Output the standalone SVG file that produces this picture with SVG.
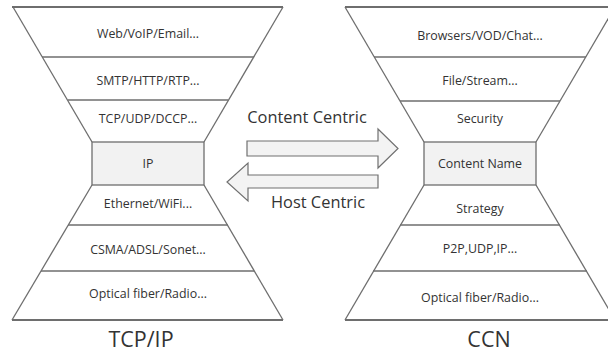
<svg xmlns="http://www.w3.org/2000/svg" width="608" height="356" viewBox="0 0 608 356">
  <style>
    .edge { stroke: #6e6e6e; stroke-width: 1.3; fill: none; }
    .rim { stroke: #6e6e6e; stroke-width: 2; fill: none; }
    .core { fill: #f2f2f2; stroke: #6e6e6e; stroke-width: 1.3; }
    .lbl { font-family: "Open Sans", "Noto Sans", sans-serif; font-size: 12.4px; fill: #333; text-anchor: middle; }
    .big { font-family: "Open Sans", "Noto Sans", sans-serif; font-size: 21.5px; fill: #333; text-anchor: middle; }
    .mid { font-family: "Open Sans", "Noto Sans", sans-serif; font-size: 16.4px; fill: #333; text-anchor: middle; }
    .arrow { fill: #f3f3f3; stroke: #707070; stroke-width: 1.2; stroke-linejoin: miter; }
  </style>

  <!-- TCP/IP hourglass -->
  <g id="tcpip">
    <line class="rim" x1="12" y1="7" x2="283" y2="7"/>
    <line class="rim" x1="12" y1="320" x2="283" y2="320"/>
    <polyline class="edge" points="13,7 92,142"/>
    <polyline class="edge" points="283,7 204,142"/>
    <polyline class="edge" points="92,185 12,320"/>
    <polyline class="edge" points="204,185 283,320"/>
    <line class="edge" x1="42" y1="57" x2="254" y2="57"/>
    <line class="edge" x1="68" y1="100" x2="228" y2="100"/>
    <line class="edge" x1="68" y1="225" x2="228" y2="225"/>
    <line class="edge" x1="41" y1="271" x2="254" y2="271"/>
    <rect class="core" x="92" y="142" width="112" height="43"/>
    <text class="lbl" x="148" y="37.5">Web/VoIP/Email...</text>
    <text class="lbl" x="148" y="84.5">SMTP/HTTP/RTP...</text>
    <text class="lbl" x="148" y="122.5">TCP/UDP/DCCP...</text>
    <text class="lbl" x="148" y="167.5">IP</text>
    <text class="lbl" x="148" y="208">Ethernet/WiFi...</text>
    <text class="lbl" x="148" y="254">CSMA/ADSL/Sonet...</text>
    <text class="lbl" x="148" y="297.5">Optical fiber/Radio...</text>
    <text class="big" x="141" y="347">TCP/IP</text>
  </g>

  <!-- CCN hourglass -->
  <g id="ccn">
    <line class="rim" x1="345" y1="7" x2="608" y2="7"/>
    <line class="rim" x1="345" y1="320" x2="608" y2="320"/>
    <polyline class="edge" points="345,7 424,142"/>
    <polyline class="edge" points="615,7 536,142"/>
    <polyline class="edge" points="424,185 345,320"/>
    <polyline class="edge" points="536,185 615,320"/>
    <line class="edge" x1="374" y1="57" x2="586" y2="57"/>
    <line class="edge" x1="400" y1="101" x2="560" y2="101"/>
    <line class="edge" x1="400" y1="225" x2="560" y2="225"/>
    <line class="edge" x1="373" y1="271" x2="587" y2="271"/>
    <rect class="core" x="424" y="142" width="112" height="43"/>
    <text class="lbl" x="480" y="39.5">Browsers/VOD/Chat...</text>
    <text class="lbl" x="480" y="84.5">File/Stream...</text>
    <text class="lbl" x="480" y="122.5">Security</text>
    <text class="lbl" x="480" y="167.5">Content Name</text>
    <text class="lbl" x="480" y="212.5">Strategy</text>
    <text class="lbl" x="480" y="252.5">P2P,UDP,IP...</text>
    <text class="lbl" x="480" y="301.5">Optical fiber/Radio...</text>
    <text class="big" x="489" y="347">CCN</text>
  </g>

  <!-- connectors between the two stacks -->
  <g id="connectors">
    <polygon class="arrow" points="247,141 378,141 378,129 398,148.5 378,168 378,156 247,156"/>
    <polygon class="arrow" points="378,175 248,175 248,163 227,182 248,201 248,188 378,188"/>
    <text class="mid" x="307" y="123">Content Centric</text>
    <text class="mid" x="318" y="208">Host Centric</text>
  </g>
</svg>
